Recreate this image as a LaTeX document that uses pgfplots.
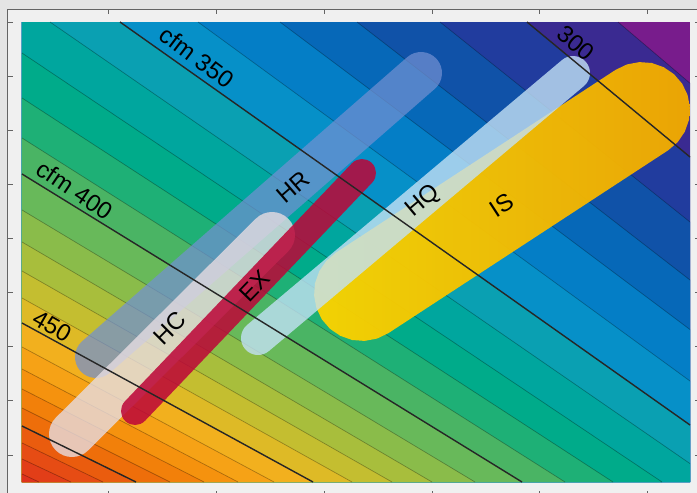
\documentclass[border=0pt]{standalone}
\usepackage{pgfplots}
\pgfplotsset{compat=1.18}
\usepackage{fontspec}
\setmainfont{Liberation Sans}
\definecolor{outerbg}{RGB}{228,228,228}
\definecolor{innerbg}{RGB}{240,240,240}
\definecolor{framecol}{RGB}{100,100,100}
\definecolor{c280}{RGB}{120,28,140}
\definecolor{c290}{RGB}{58,42,145}
\definecolor{c300}{RGB}{33,60,158}
\definecolor{c310}{RGB}{16,82,168}
\definecolor{c320}{RGB}{6,104,184}
\definecolor{c330}{RGB}{4,126,198}
\definecolor{c340}{RGB}{6,144,200}
\definecolor{c350}{RGB}{10,160,178}
\definecolor{c360}{RGB}{0,166,158}
\definecolor{c370}{RGB}{0,171,138}
\definecolor{c380}{RGB}{30,176,118}
\definecolor{c390}{RGB}{74,180,100}
\definecolor{c400}{RGB}{104,185,90}
\definecolor{c410}{RGB}{138,188,74}
\definecolor{c420}{RGB}{168,190,60}
\definecolor{c430}{RGB}{196,190,48}
\definecolor{c440}{RGB}{222,186,38}
\definecolor{c450}{RGB}{242,176,30}
\definecolor{c460}{RGB}{246,162,22}
\definecolor{c470}{RGB}{245,146,14}
\definecolor{c480}{RGB}{242,128,10}
\definecolor{c490}{RGB}{238,110,10}
\definecolor{c500}{RGB}{234,92,14}
\definecolor{c510}{RGB}{230,76,20}
\definecolor{c520}{RGB}{226,62,24}
\definecolor{c530}{RGB}{222,50,28}
\definecolor{hrcol}{RGB}{114,144,210}
\definecolor{hccol}{RGB}{230,220,226}
\definecolor{excol}{RGB}{188,6,56}
\definecolor{hqcol}{RGB}{195,225,245}
\definecolor{isA}{RGB}{250,212,0}
\definecolor{isB}{RGB}{242,170,0}
\newcommand{\lab}{\fontsize{24}{28}\selectfont}
\begin{document}
\begin{tikzpicture}
\path[use as bounding box, fill=outerbg] (0,0) rectangle (697pt,493pt);
\begin{axis}[
  at={(8pt,-3pt)}, anchor=south west,
  width=692pt, height=487pt, scale only axis,
  xmin=8, xmax=700, ymin=9, ymax=496, y dir=reverse,
  axis background/.style={fill=innerbg},
  xtick={108,216,324,432,539,647},
  ytick={22,76,130,184,238,292,346,400,455},
  xticklabels={}, yticklabels={},
  tick align=inside, major tick length=5pt,
  axis line style={draw=framecol, line width=1pt},
  tick style={draw=framecol, line width=0.8pt},
  band/.style={draw=none, forget plot},
  thin/.style={draw=black, draw opacity=0.3, line width=0.7pt, no marks},
  bold/.style={draw=black!85, line width=1.4pt, no marks},
]
% contour bands
\addplot[band, fill=c280] coordinates {(22,22) (690,22) (690,482) (22,482)};
\addplot[band, fill=c290] coordinates {(618,22) (690,83.2) (690,482) (22,482) (22,22)};
\addplot[band, fill=c300] coordinates {(527,22) (690,157) (690,482) (22,482) (22,22)};
\addplot[band, fill=c310] coordinates {(440,22) (690,222) (690,482) (22,482) (22,22)};
\addplot[band, fill=c320] coordinates {(357,22) (690,280) (690,482) (22,482) (22,22)};
\addplot[band, fill=c330] coordinates {(280,22) (690,329.5) (690,482) (22,482) (22,22)};
\addplot[band, fill=c340] coordinates {(198,22) (690,381) (690,482) (22,482) (22,22)};
\addplot[band, fill=c350] coordinates {(120,22) (690,425) (690,482) (22,482) (22,22)};
\addplot[band, fill=c360] coordinates {(50,22) (690,463.6) (690,482) (22,482) (22,22)};
\addplot[band, fill=c370] coordinates {(22,53) (662,482) (22,482)};
\addplot[band, fill=c380] coordinates {(22,98) (613,482) (22,482)};
\addplot[band, fill=c390] coordinates {(22,138) (565,482) (22,482)};
\addplot[band, fill=c400] coordinates {(22,174) (522,482) (22,482)};
\addplot[band, fill=c410] coordinates {(22,210) (475,482) (22,482)};
\addplot[band, fill=c420] coordinates {(22,242) (432,482) (22,482)};
\addplot[band, fill=c430] coordinates {(22,271) (392,482) (22,482)};
\addplot[band, fill=c440] coordinates {(22,298) (352,482) (22,482)};
\addplot[band, fill=c450] coordinates {(22,323) (313,482) (22,482)};
\addplot[band, fill=c460] coordinates {(22,347) (274,482) (22,482)};
\addplot[band, fill=c470] coordinates {(22,369) (238,482) (22,482)};
\addplot[band, fill=c480] coordinates {(22,389) (204,482) (22,482)};
\addplot[band, fill=c490] coordinates {(22,408) (170,482) (22,482)};
\addplot[band, fill=c500] coordinates {(22,426) (136,482) (22,482)};
\addplot[band, fill=c510] coordinates {(22,443) (103,482) (22,482)};
\addplot[band, fill=c520] coordinates {(22,459) (71,482) (22,482)};
\addplot[band, fill=c530] coordinates {(22,474) (39,482) (22,482)};
% thin contour lines
\addplot[thin] coordinates {(618,22) (690,83.2)};
\addplot[thin] coordinates {(440,22) (690,222)};
\addplot[thin] coordinates {(357,22) (690,280)};
\addplot[thin] coordinates {(280,22) (690,329.5)};
\addplot[thin] coordinates {(198,22) (690,381)};
\addplot[thin] coordinates {(50,22) (690,463.6)};
\addplot[thin] coordinates {(22,53) (662,482)};
\addplot[thin] coordinates {(22,98) (613,482)};
\addplot[thin] coordinates {(22,138) (565,482)};
\addplot[thin] coordinates {(22,210) (475,482)};
\addplot[thin] coordinates {(22,242) (432,482)};
\addplot[thin] coordinates {(22,271) (392,482)};
\addplot[thin] coordinates {(22,298) (352,482)};
\addplot[thin] coordinates {(22,347) (274,482)};
\addplot[thin] coordinates {(22,369) (238,482)};
\addplot[thin] coordinates {(22,389) (204,482)};
\addplot[thin] coordinates {(22,408) (170,482)};
\addplot[thin] coordinates {(22,443) (103,482)};
\addplot[thin] coordinates {(22,459) (71,482)};
\addplot[thin] coordinates {(22,474) (39,482)};
% strips
\addplot[draw=hrcol, opacity=0.72, line width=42pt, line cap=round, no marks] coordinates {(96,357) (421,73)};
\addplot[draw=hccol, opacity=0.8, line width=46pt, line cap=round, no marks] coordinates {(72,434) (272,235)};
\addplot[draw=excol, opacity=0.86, line width=28pt, line cap=round, no marks] coordinates {(135,411) (362,173)};
\addplot[draw=none, left color=isA, right color=isB, fill opacity=0.96] coordinates {
(668.3,150.2) (677.8,142.0) (684.8,131.7) (689.0,119.8) (689.9,107.4) (687.6,95.0) (682.2,83.7)
(674.0,74.2) (663.7,67.2) (651.8,63.0) (639.4,62.1) (627.0,64.4) (615.7,69.8)
(335.7,252.8) (326.2,261.0) (319.2,271.3) (315.0,283.2) (314.1,295.6) (316.4,308.0) (321.8,319.3)
(330.0,328.8) (340.3,335.8) (352.2,340.0) (364.6,340.9) (377.0,338.6) (388.3,333.2)} --cycle;
\addplot[draw=hqcol, opacity=0.8, line width=34pt, line cap=round, no marks] coordinates {(258,338) (573,73)};
% labelled contour lines
\addplot[bold] coordinates {(527,22) (690,157)};
\addplot[bold] coordinates {(120,22) (690,425)};
\addplot[bold] coordinates {(22,174) (522,482)};
\addplot[bold] coordinates {(22,323) (313,482)};
\addplot[bold] coordinates {(22,426) (136,482)};
% labels
\node[rotate=-37, font=\lab] at (axis cs:197,57) {cfm 350};
\node[rotate=-34, font=\lab] at (axis cs:75,190) {cfm 400};
\node[rotate=-30, font=\lab] at (axis cs:52,326) {450};
\node[rotate=-40, font=\lab] at (axis cs:576,43) {300};
\node[rotate=41, font=\lab] at (axis cs:293,187) {HR};
\node[rotate=45, font=\lab] at (axis cs:170,328) {HC};
\node[rotate=46, font=\lab] at (axis cs:255,286) {EX};
\node[rotate=40, font=\lab] at (axis cs:423,201) {HQ};
\node[rotate=33, font=\lab] at (axis cs:502,205) {IS};
\end{axis}
\end{tikzpicture}
\end{document}
